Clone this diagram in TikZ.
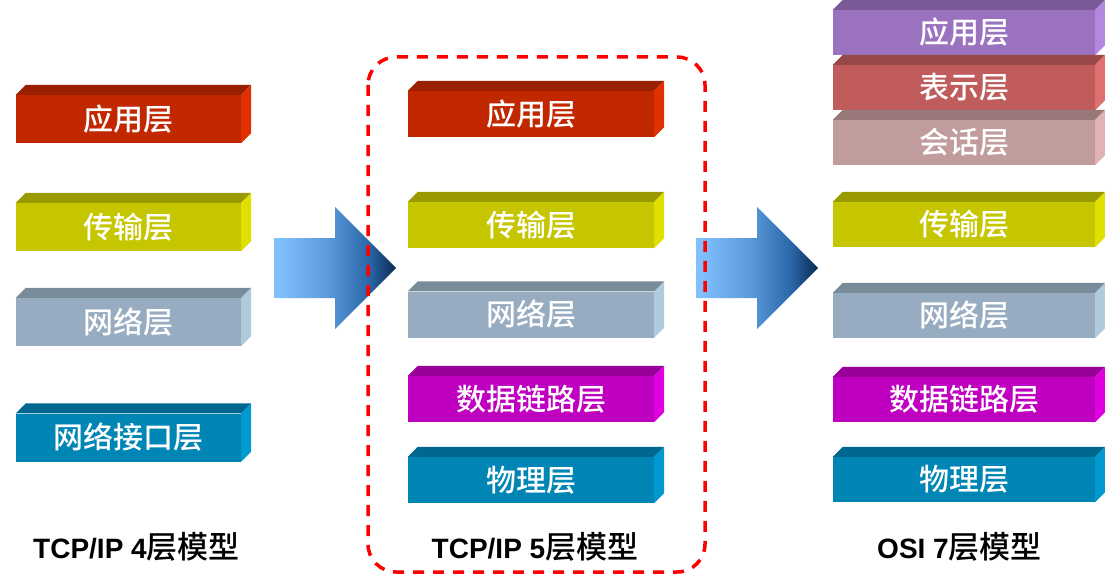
\documentclass[tikz,border=0pt]{standalone}
\usepackage{fontspec}
\setmainfont{Liberation Sans}
\newfontfamily\cjk{Noto Sans CJK SC}[BoldFont=* Medium]
\usepackage{tikz}
\usepackage{xcolor}
\definecolor{appfront}{HTML}{C22800}
\definecolor{apptop}{HTML}{992000}
\definecolor{appside}{HTML}{E03000}
\definecolor{transfront}{HTML}{C6C600}
\definecolor{transtop}{HTML}{999900}
\definecolor{transside}{HTML}{E0E000}
\definecolor{netfront}{HTML}{97ACC0}
\definecolor{nettop}{HTML}{788B99}
\definecolor{netside}{HTML}{AECADB}
\definecolor{linkfront}{HTML}{C000C0}
\definecolor{linktop}{HTML}{990099}
\definecolor{linkside}{HTML}{E000E0}
\definecolor{physfront}{HTML}{0086B5}
\definecolor{phystop}{HTML}{006890}
\definecolor{physside}{HTML}{0099D0}
\definecolor{osiappfront}{HTML}{9B72C0}
\definecolor{osiapptop}{HTML}{7A5A98}
\definecolor{osiappside}{HTML}{B488E0}
\definecolor{presfront}{HTML}{C05C5C}
\definecolor{prestop}{HTML}{984848}
\definecolor{presside}{HTML}{E07070}
\definecolor{sessfront}{HTML}{C09C9C}
\definecolor{sesstop}{HTML}{987878}
\definecolor{sessside}{HTML}{E0B4B4}
\colorlet{framecol}{red}
\definecolor{arrowlight}{HTML}{80C0FF}
\definecolor{arrowmid}{HTML}{5898D8}
\definecolor{arrowdeep}{HTML}{2A66A8}
\definecolor{arrownavy}{HTML}{0A2A50}
\pgfdeclarehorizontalshading{arrowshade}{100bp}{color(0bp)=(arrowlight); color(27bp)=(arrowlight); color(48bp)=(arrowmid); color(64bp)=(arrowdeep); color(75bp)=(arrownavy); color(100bp)=(arrownavy)}
% front face as a node, top and side faces filled behind it
\newcommand{\layerblock}[5]{%
	\node[layerbox, #3, fill=#4front] (#1) at (#2) {#5};
	\fill[#4top] (#1.north west) -- ++(10,-10) -- ([shift={(10,-10)}]#1.north east) -- (#1.north east) -- cycle;
	\fill[#4side] (#1.north east) -- ++(10,-10) -- ([shift={(10,-10)}]#1.south east) -- (#1.south east) -- cycle;
}

\begin{document}
\begin{tikzpicture}[x=1pt, y=-1pt,
		layerbox/.style={inner sep=0pt, text=white, font=\cjk\bfseries\fontsize{30}{30}\selectfont},
		col4/.style={minimum width=225pt, minimum height=48pt},
		col5/.style={minimum width=246pt, minimum height=46pt},
		col7/.style={minimum width=262pt, minimum height=45pt},
		model/.style={anchor=base, inner sep=0pt, font=\bfseries\fontsize{28}{28}\selectfont},
		modelframe/.style={draw=framecol, line width=3.5pt, dash pattern=on 11pt off 9pt, rounded corners=28pt}]
		\useasboundingbox (0,0) rectangle (1105,575);
		\coordinate (tailA) at (274,268);
		\coordinate (tailB) at (696,268);
		% TCP/IP 4
		\layerblock{app4}{128.5,119}{col4}{app}{应用层}
		\layerblock{trans4}{128.5,227}{col4}{trans}{传输层}
		\layerblock{net4}{128.5,322}{col4}{net}{网络层}
		\layerblock{iface4}{128.5,437.5}{col4}{phys}{网络接口层}
		% arrows
		\shade[shading=arrowshade] (tailA) ++(0,-30) -- ++(61,0) -- ++(0,-31) -- ++(61,61) -- ++(-61,61) -- ++(0,-31) -- ++(-61,0) -- cycle;
		\shade[shading=arrowshade] (tailB) ++(0,-30) -- ++(61,0) -- ++(0,-31) -- ++(61,61) -- ++(-61,61) -- ++(0,-31) -- ++(-61,0) -- cycle;
		% TCP/IP 5
		\draw[modelframe] (368,57) rectangle (705,572);
		\layerblock{app5}{531,114}{col5}{app}{应用层}
		\layerblock{trans5}{531,225}{col5}{trans}{传输层}
		\layerblock{net5}{531,314.5}{col5}{net}{网络层}
		\layerblock{link5}{531,399}{col5}{link}{数据链路层}
		\layerblock{phys5}{531,480}{col5}{phys}{物理层}
		% OSI 7
		\layerblock{app7}{964,32.5}{col7}{osiapp}{应用层}
		\layerblock{pres7}{964,87.5}{col7}{pres}{表示层}
		\layerblock{sess7}{964,142.5}{col7}{sess}{会话层}
		\layerblock{trans7}{964,224.5}{col7}{trans}{传输层}
		\layerblock{net7}{964,315.5}{col7}{net}{网络层}
		\layerblock{link7}{964,399.5}{col7}{link}{数据链路层}
		\layerblock{phys7}{964,479.5}{col7}{phys}{物理层}
		% captions
		\node[model] (model4) at (136.5,558) {TCP/IP 4{\cjk\fontsize{31}{31}\selectfont 层模型}};
		\node[model] (model5) at (535,558) {TCP/IP 5{\cjk\fontsize{31}{31}\selectfont 层模型}};
		\node[model] (model7) at (959.5,558) {OSI 7{\cjk\fontsize{31}{31}\selectfont 层模型}};
	\end{tikzpicture}
\end{document}
